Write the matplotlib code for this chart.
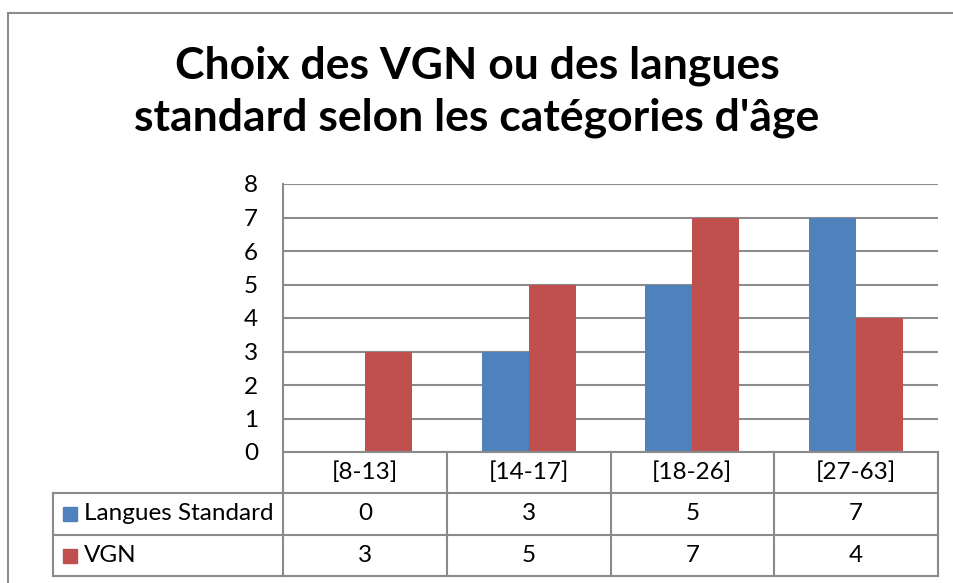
import matplotlib
matplotlib.use("Agg")
import matplotlib.pyplot as plt
import matplotlib.transforms as mtransforms
from matplotlib.lines import Line2D
from matplotlib.patches import Rectangle

# ---- data ----
categories = ["[8-13]", "[14-17]", "[18-26]", "[27-63]"]
langues_standard = [0, 3, 5, 7]
vgn = [3, 5, 7, 4]
series_names = ["Langues Standard", "VGN"]
y_ticks = [0, 1, 2, 3, 4, 5, 6, 7, 8]
title_lines = ["Choix des VGN ou des langues", "standard selon les catégories d'âge"]

# ---- style ----
plt.rcParams['font.family'] = ['Lato', 'DejaVu Sans']
BLUE = "#4F81BD"
RED = "#C0504D"
GRID = "#8C8C8C"
LINE = "#8A8A8A"

W, H = 954, 583
fig = plt.figure(figsize=(W / 100, H / 100), dpi=100)


def fx(px):
    return px / W


def fy(py):
    return 1 - py / H


# outer chart border (extends beyond image at right/bottom)
fig.add_artist(Rectangle((fx(8), fy(H + 20)), fx(W + 20) - fx(8), fy(13) - fy(H + 20),
                         transform=fig.transFigure, fill=False, edgecolor="#8C8C8C", lw=1.5))

ax = fig.add_axes([fx(283), fy(452), fx(938) - fx(283), fy(184) - fy(452)])
x = list(range(len(categories)))
bw = 0.287
ax.bar([i - bw / 2 for i in x], langues_standard, width=bw, color=BLUE, zorder=3)
ax.bar([i + bw / 2 for i in x], vgn, width=bw, color=RED, zorder=3)
ax.set_xlim(-0.5, len(categories) - 0.5)
ax.set_ylim(0, 8)
ax.set_yticks(y_ticks)
ax.set_yticklabels([str(v) for v in y_ticks])
ax.set_xticks([])
fs = 17.5
ax.tick_params(axis='y', length=0, pad=18, labelsize=fs)
ax.yaxis.grid(True, color=GRID, lw=1.5)
ax.set_axisbelow(True)
for s in ["top", "right"]:
    ax.spines[s].set_visible(False)
for s in ["left", "bottom"]:
    ax.spines[s].set_color(LINE)
    ax.spines[s].set_linewidth(1.5)
ax.spines["bottom"].set_zorder(4)

# ---- data table ----
bt = mtransforms.blended_transform_factory(ax.transData, fig.transFigure)
row_top = [452, 493, 535]
row_bot = [493, 535, 576]
x_left_tab = fx(53)
x_right = len(categories) - 0.5

for b in [i - 0.5 for i in range(len(categories) + 1)]:
    fig.add_artist(Line2D([b, b], [fy(452), fy(576)], transform=bt, color=LINE, lw=1.5))
for yy in [493, 535, 576]:
    fig.add_artist(Line2D([-0.5, x_right], [fy(yy), fy(yy)], transform=bt, color=LINE, lw=1.5))
    fig.add_artist(Line2D([x_left_tab, fx(283)], [fy(yy), fy(yy)], transform=fig.transFigure,
                          color=LINE, lw=1.5))
fig.add_artist(Line2D([x_left_tab, x_left_tab], [fy(493), fy(576)], transform=fig.transFigure,
                      color=LINE, lw=1.5))

for i, c in enumerate(categories):
    fig.text(i, fy((row_top[0] + row_bot[0]) / 2), c, transform=bt, ha='center', va='center',
             fontsize=fs)
for r, (name, vals, col) in enumerate(zip(series_names, [langues_standard, vgn], [BLUE, RED])):
    yc = fy((row_top[r + 1] + row_bot[r + 1]) / 2)
    fig.add_artist(Rectangle((fx(63), yc - 7 / H), fx(14), 14 / H, transform=fig.transFigure,
                             color=col))
    fig.text(fx(84), yc, name, ha='left', va='center', fontsize=fs)
    for i, v in enumerate(vals):
        fig.text(i, yc, str(v), transform=bt, ha='center', va='center', fontsize=fs)

# ---- title ----
for line, base in zip(title_lines, [79, 130]):
    fig.text(fx(477), fy(base), line, ha='center', va='baseline', fontsize=32,
             fontweight='bold')

fig.savefig("out.png", dpi=100)
